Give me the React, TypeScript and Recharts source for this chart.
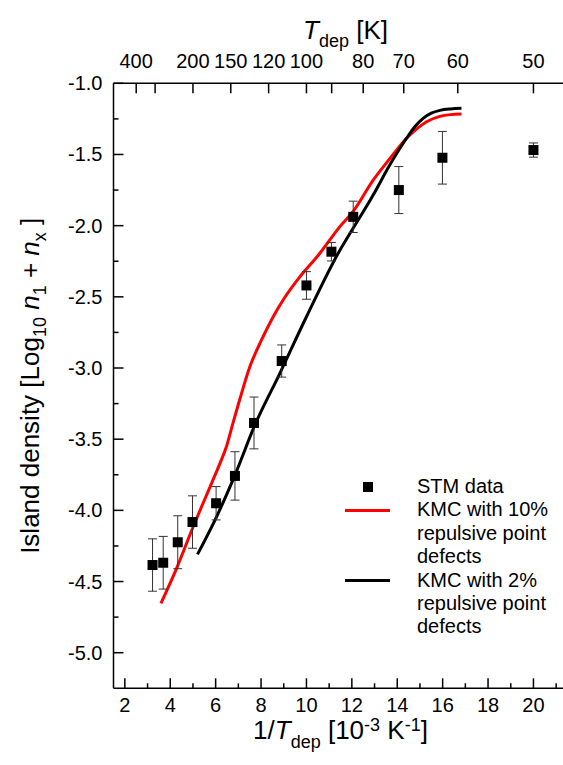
import React from 'react';
import { ComposedChart, Line, Scatter, XAxis, YAxis, ErrorBar, Label, Legend } from 'recharts';

const FONT = 'Arial, "Liberation Sans", Helvetica, sans-serif';

// STM data: 1/T_dep [1e-3 K^-1], log10 density, error
const stmX = [3.22, 3.69, 4.33, 4.98, 6.02, 6.85, 7.69, 8.91, 10.0, 11.1, 12.06, 14.07, 15.99, 20.0];
const stmY = [-4.384, -4.368, -4.224, -4.082, -3.95, -3.758, -3.386, -2.951, -2.42, -2.183, -1.938, -1.75, -1.523, -1.469];
const stmErr = [0.184, 0.185, 0.186, 0.184, 0.117, 0.17, 0.182, 0.113, 0.097, 0.065, 0.11, 0.165, 0.185, 0.05];

// KMC 10% repulsive point defects
const red10X = [3.59, 4.28, 5.01, 5.82, 6.19, 6.48, 6.7, 7.1, 7.51, 8.0, 8.5, 9.0, 9.71, 10.59, 11.03, 11.47, 12.06, 12.94, 13.67, 14.41, 14.9, 15.29, 15.88, 16.35, 16.83];
const red10Y = [-4.653, -4.407, -4.115, -3.81, -3.67, -3.55, -3.424, -3.2, -2.99, -2.81, -2.65, -2.515, -2.359, -2.194, -2.1, -2.007, -1.9, -1.68, -1.53, -1.386, -1.315, -1.27, -1.232, -1.22, -1.216];

// KMC 2% repulsive point defects
const black2X = [5.2, 6.04, 6.85, 7.73, 8.83, 10.0, 11.48, 11.92, 12.94, 13.67, 14.41, 14.8, 15.14, 15.5, 15.88, 16.35, 16.83];
const black2Y = [-4.309, -4.045, -3.752, -3.4, -3.037, -2.64, -2.171, -2.054, -1.785, -1.574, -1.386, -1.3, -1.246, -1.21, -1.19, -1.18, -1.176];

const bottomTicks = [2, 3, 4, 5, 6, 7, 8, 9, 10, 11, 12, 13, 14, 15, 16, 17, 18, 19, 20, 21];
const leftTicks = [-1, -1.25, -1.5, -1.75, -2, -2.25, -2.5, -2.75, -3, -3.25, -3.5, -3.75, -4, -4.25, -4.5, -4.75, -5];
const tempTicks = [400, 300, 200, 150, 120, 100, 90, 80, 70, 60, 50];
const tempLabels = ['400', '', '200', '150', '120', '100', '', '80', '70', '60', '50'];

const legendLabels = [
  ['STM data'],
  ['KMC with 10%', 'repulsive point', 'defects'],
  ['KMC with 2%', 'repulsive point', 'defects'],
];
const legendKinds = ['square', 'line', 'line'];
const legendColors = ['#000000', '#ff0000', '#000000'];

const stmData = stmX.map((x, i) => ({ x, y: stmY[i], err: stmErr[i] }));
const redData = red10X.map((x, i) => ({ x, y: red10Y[i] }));
const blackData = black2X.map((x, i) => ({ x, y: black2Y[i] }));
const topTickValues = tempTicks.map((t) => 1000 / t);

const TICK_FS = 20;
const TITLE_FS = 26;
const SUB_FS = 18;

function BottomTick({ x, y, payload }: any) {
  const major = payload.value % 2 === 0;
  return (
    <g>
      <line x1={x} x2={x} y1={y} y2={y - (major ? 10 : 5)} stroke="#000" strokeWidth={1.5} />
      {major && (
        <text x={x} y={y + 23.5} textAnchor="middle" fontSize={TICK_FS} fontFamily={FONT} fill="#000">
          {payload.value}
        </text>
      )}
    </g>
  );
}

function LeftTick({ x, y, payload }: any) {
  const v = payload.value;
  const major = Math.abs(v * 2 - Math.round(v * 2)) < 1e-6;
  return (
    <g>
      <line x1={x} x2={x + (major ? 10 : 5)} y1={y} y2={y} stroke="#000" strokeWidth={1.5} />
      {major && (
        <text x={x - 11} y={y + 7} textAnchor="end" fontSize={TICK_FS} fontFamily={FONT} fill="#000">
          {v.toFixed(1)}
        </text>
      )}
    </g>
  );
}

function TopTick({ x, y, index }: any) {
  return (
    <g>
      <line x1={x} x2={x} y1={y} y2={y + 10} stroke="#000" strokeWidth={1.5} />
      <text x={x} y={y - 15} textAnchor="middle" fontSize={TICK_FS} fontFamily={FONT} fill="#000">
        {tempLabels[index]}
      </text>
    </g>
  );
}

const xTitle = (props: any) => {
  const vb = props.viewBox;
  return (
    <text x={vb.x + vb.width / 2} y={vb.y + 51} textAnchor="middle" fontSize={TITLE_FS} fontFamily={FONT} fill="#000">
      1/<tspan fontStyle="italic">T</tspan>
      <tspan fontSize={SUB_FS} dy={9}>dep</tspan>
      <tspan dy={-9}> [10</tspan>
      <tspan fontSize={SUB_FS} dy={-8}>-3</tspan>
      <tspan dy={8}> K</tspan>
      <tspan fontSize={SUB_FS} dy={-8}>-1</tspan>
      <tspan dy={8}>]</tspan>
    </text>
  );
};

const topTitle = (props: any) => {
  const vb = props.viewBox;
  return (
    <text x={vb.x + vb.width / 2 + 5} y={39} textAnchor="middle" fontSize={TITLE_FS} fontFamily={FONT} fill="#000">
      <tspan fontStyle="italic">T</tspan>
      <tspan fontSize={SUB_FS} dy={8}>dep</tspan>
      <tspan dy={-8}> [K]</tspan>
    </text>
  );
};

const yTitle = (props: any) => {
  const vb = props.viewBox;
  const cx = 39;
  const cy = vb.y + vb.height / 2;
  return (
    <text x={cx} y={cy} transform={`rotate(-90 ${cx} ${cy})`} textAnchor="middle" fontSize={TITLE_FS} fontFamily={FONT} fill="#000">
      Island density [Log
      <tspan fontSize={SUB_FS} dy={7}>10</tspan>
      <tspan dy={-7}> </tspan>
      <tspan fontStyle="italic">n</tspan>
      <tspan fontSize={SUB_FS} dy={7}>1</tspan>
      <tspan dy={-7}> + </tspan>
      <tspan fontStyle="italic">n</tspan>
      <tspan fontSize={SUB_FS} dy={7}>x</tspan>
      <tspan dy={-7}> ]</tspan>
    </text>
  );
};

const squareShape = (props: any) => (
  <rect x={props.cx - 5} y={props.cy - 5} width={10} height={10} fill="#000" />
);

function LegendBox() {
  return (
    <div style={{ fontFamily: FONT, fontSize: 20, lineHeight: '23.4px', color: '#000' }}>
      {legendLabels.map((lines, i) => (
        <div key={i} style={{ display: 'flex', alignItems: 'flex-start' }}>
          <div style={{ width: 55, height: 23.4, display: 'flex', alignItems: 'center', justifyContent: 'center', marginRight: 22 }}>
            {legendKinds[i] === 'square' ? (
              <div style={{ width: 10, height: 10, background: legendColors[i] }} />
            ) : (
              <div style={{ width: 45, height: 3, background: legendColors[i] }} />
            )}
          </div>
          <div>
            {lines.map((t, j) => (
              <div key={j} style={{ whiteSpace: 'nowrap' }}>{t}</div>
            ))}
          </div>
        </div>
      ))}
    </div>
  );
}

export default function App() {
  return (
    <div style={{ position: 'fixed', left: 0, top: 0, width: 563, height: 765, overflow: 'hidden', background: '#fff' }}>
      <ComposedChart width={600} height={765} margin={{ top: 0, right: 32.5, bottom: 0, left: 0 }}>
        <XAxis
          xAxisId="b"
          type="number"
          dataKey="x"
          domain={[1.5, 21.5]}
          allowDataOverflow
          ticks={bottomTicks}
          interval={0}
          tick={<BottomTick />}
          tickLine={false}
          tickSize={0}
          tickMargin={0}
          axisLine={{ stroke: '#000', strokeWidth: 1.5 }}
          height={76.7}
        >
          <Label content={xTitle} />
        </XAxis>
        <XAxis
          xAxisId="t"
          orientation="top"
          type="number"
          dataKey="x"
          domain={[1.5, 21.5]}
          allowDataOverflow
          ticks={topTickValues}
          interval={0}
          tick={<TopTick />}
          tickLine={false}
          tickSize={0}
          tickMargin={0}
          axisLine={{ stroke: '#000', strokeWidth: 1.5 }}
          height={83.3}
        >
          <Label content={topTitle} />
        </XAxis>
        <YAxis
          yAxisId="l"
          type="number"
          dataKey="y"
          domain={[-5.25, -1]}
          allowDataOverflow
          ticks={leftTicks}
          interval={0}
          tick={<LeftTick />}
          tickLine={false}
          tickSize={0}
          tickMargin={0}
          axisLine={{ stroke: '#000', strokeWidth: 1.5 }}
          width={113.5}
        >
          <Label content={yTitle} />
        </YAxis>
        <Line
          xAxisId="b"
          yAxisId="l"
          data={redData}
          dataKey="y"
          type="monotone"
          stroke="#ff0000"
          strokeWidth={3}
          dot={false}
          isAnimationActive={false}
        />
        <Line
          xAxisId="b"
          yAxisId="l"
          data={blackData}
          dataKey="y"
          type="monotone"
          stroke="#000000"
          strokeWidth={3}
          dot={false}
          isAnimationActive={false}
        />
        <Scatter xAxisId="b" yAxisId="l" data={stmData} dataKey="y" shape={squareShape} isAnimationActive={false}>
          <ErrorBar dataKey="err" direction="y" width={4.5} stroke="#333" strokeWidth={1} isAnimationActive={false} />
        </Scatter>
        <Legend
          layout="horizontal"
          verticalAlign="middle"
          align="center"
          wrapperStyle={{ left: 340, top: 475, width: 220 }}
          content={() => <LegendBox />}
        />
      </ComposedChart>
    </div>
  );
}
